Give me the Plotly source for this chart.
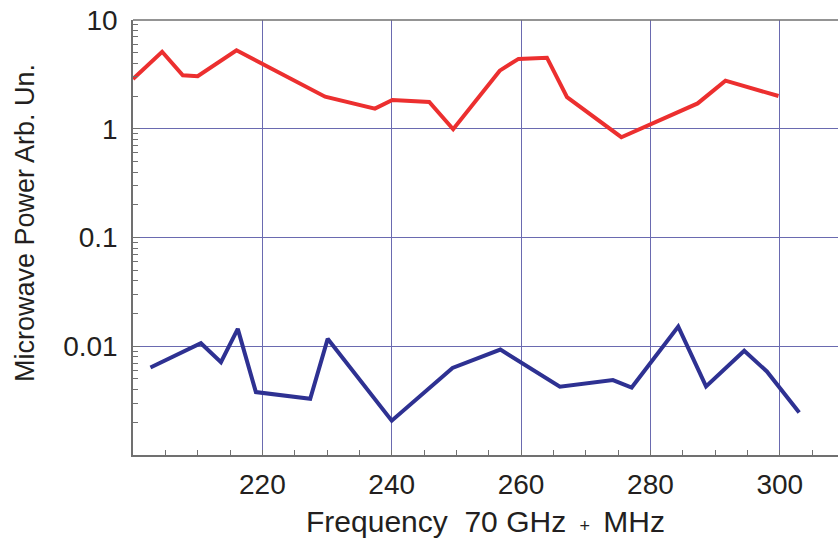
import plotly.graph_objects as go

red_x = [200.0, 204.5, 207.7, 210.0, 216.0, 229.7, 237.4, 240.1, 245.8, 249.5, 256.7, 259.6, 264.0, 267.1, 275.5, 287.3, 291.6, 299.8]
red_y = [2.87, 5.1, 3.1, 3.04, 5.26, 1.97, 1.53, 1.84, 1.76, 0.99, 3.42, 4.39, 4.5, 1.95, 0.836, 1.71, 2.77, 2.0]

blue_x = [202.7, 210.5, 213.6, 216.2, 219.0, 227.4, 230.1, 240.0, 249.4, 256.8, 266.0, 274.2, 277.1, 284.3, 288.6, 294.5, 298.0, 303.0]
blue_y = [0.00637, 0.01067, 0.00714, 0.01445, 0.00379, 0.00329, 0.0117, 0.00207, 0.00632, 0.00933, 0.00424, 0.00488, 0.00417, 0.01517, 0.00427, 0.00908, 0.00586, 0.00246]

x_ticks = [220, 240, 260, 280, 300]
y_ticks = [0.01, 0.1, 1, 10]
y_tick_text = ["0.01", "0.1", "1", "10"]
y_minor = [m * d for d in [0.001, 0.01, 0.1, 1] for m in range(2, 10)]

FONT = "Liberation Sans, Arial, Helvetica, sans-serif"
TXT = "#231f20"
GRID = "#6a6ab0"
AXIS = "#707070"

fig = go.Figure()
fig.add_trace(go.Scatter(x=red_x, y=red_y, mode="lines",
                         line=dict(color="#ec2f2f", width=4), showlegend=False))
fig.add_trace(go.Scatter(x=blue_x, y=blue_y, mode="lines",
                         line=dict(color="#2e3192", width=4), showlegend=False))

fig.update_layout(
    width=838, height=545,
    margin=dict(l=133, r=0, t=20, b=90),
    paper_bgcolor="white", plot_bgcolor="white",
    font=dict(family=FONT, size=28, color=TXT),
    xaxis=dict(
        range=[200, 309], tickvals=x_ticks, ticktext=[str(v) for v in x_ticks],
        showgrid=True, gridcolor=GRID, gridwidth=1,
        ticks="inside", ticklen=5, tickcolor=AXIS,
        minor=dict(dtick=5, ticks="inside", ticklen=5, tickcolor=AXIS, showgrid=False),
        showline=True, linecolor=AXIS, linewidth=1.5, mirror=False,
        zeroline=False, automargin=False, ticklabelstandoff=4,
        ticklabeloverflow="allow",
        title=dict(text="Frequency  70 GHz <span style='font-size:18px'>&nbsp;+&nbsp;</span> MHz",
                   font=dict(size=30, family=FONT, color=TXT), standoff=12),
        tickfont=dict(size=28, family=FONT, color=TXT),
    ),
    yaxis=dict(
        type="log", range=[-3, 1], tickvals=y_ticks, ticktext=y_tick_text,
        showgrid=True, gridcolor=GRID, gridwidth=1,
        ticks="inside", ticklen=7, tickcolor=AXIS,
        minor=dict(tickvals=y_minor, ticks="inside", ticklen=5, tickcolor=AXIS, showgrid=False),
        showline=True, linecolor=AXIS, linewidth=1.5,
        zeroline=False, automargin=False, ticklabelstandoff=8,
        ticklabeloverflow="allow",
        tickfont=dict(size=28, family=FONT, color=TXT),
    ),
)
fig.add_annotation(text="Microwave Power Arb. Un.", xref="paper", yref="paper",
                   x=0, y=0.5333, xanchor="center", yanchor="middle", xshift=-108,
                   textangle=-90, showarrow=False,
                   font=dict(size=27, family=FONT, color=TXT))
fig.add_shape(type="line", xref="paper", yref="paper", x0=0, x1=1, y0=1, y1=1,
              line=dict(color=AXIS, width=1.5))

fig.write_html("out.html",
               config={"displayModeBar": False},
               post_script="document.body.style.margin='0';document.body.style.overflow='hidden';")
